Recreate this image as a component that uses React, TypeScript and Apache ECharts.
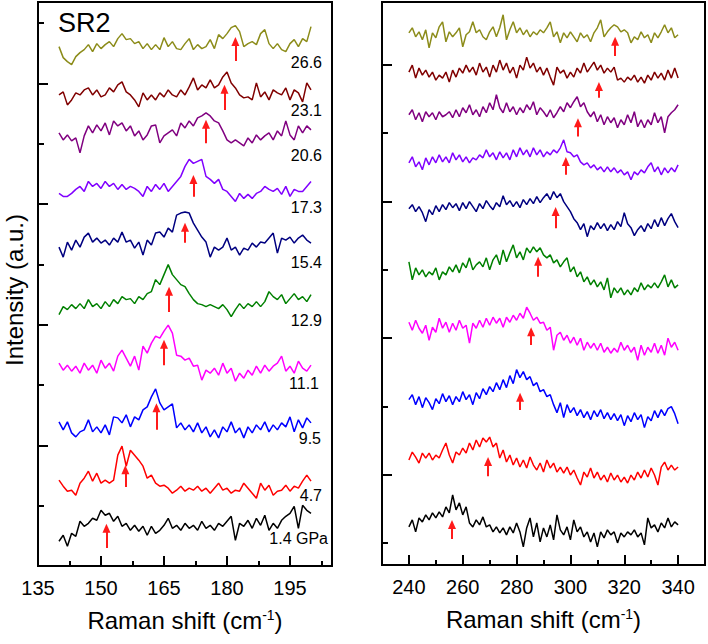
import React, { useEffect, useRef } from 'react';
import * as echarts from 'echarts';

// ---------- DATA ----------
const pressures = ['1.4 GPa', '4.7', '9.5', '11.1', '12.9', '15.4', '17.3', '20.6', '23.1', '26.6'];
const traceColors = ['#000000', '#ff0000', '#0000ff', '#ff00ff', '#008000', '#000080', '#8000ff', '#800080', '#800000', '#8c8c1a'];

const leftTickLabels = [135, 150, 165, 180, 195];
const rightTickLabels = [240, 260, 280, 300, 320, 340];

// Raman shift sampling of each panel (cm-1)
const leftShiftStart = 140;
const leftShiftStep = 1;
const rightShiftStart = 240;
const rightShiftStep = 1.25;

// vertical offsets of the stacked spectra (a.u.), bottom to top
const leftOffsets = [0.625, 1.29, 2.29, 3.28, 4.3, 5.32, 6.21, 7.18, 7.81, 8.61];
const rightOffsets = [0.66, 1.58, 2.42, 3.48, 4.32, 5.23, 5.93, 6.59, 7.17, 7.76];

// peak positions marked by arrows (cm-1) and arrow tail / tip heights (a.u.)
const leftPeaks = [151.3, 155.8, 163.2, 165, 166.2, 170, 172, 175, 179.4, 182];
const leftArrowTail = [0.3, 1.31, 2.26, 3.33, 4.21, 5.36, 6.12, 7.01, 7.56, 8.37];
const leftArrowTip = [0.7, 1.67, 2.7, 3.75, 4.63, 5.69, 6.48, 7.4, 7.98, 8.77];
const rightPeaks = [256, 269.4, 281.3, 285.4, 288, 294.5, 298.3, 302.8, 310.6, 316.6];
const rightArrowTail = [0.38, 1.3, 2.27, 3.22, 4.22, 4.93, 5.71, 6.27, 6.84, 7.45];
const rightArrowTip = [0.66, 1.58, 2.52, 3.48, 4.51, 5.24, 5.97, 6.54, 7.07, 7.73];

// Left panel spectra (relative counts), 140..200 cm-1
const L1_4 = [-13,-7,-18,-5,-8,7,2,5,10,8, 18,13,15,7,12,2,5,-2,3,-3, 2,-7,2,-5,-2,3,10,0,3,-2, 5,0,3,-2,7,0,3,-2,5,2, 7,12,-12,5,2,8,0,10,3,13, -2,5,0,8,12,15,22,0,23,18, 15];
const L4_7 = [8,2,-3,-2,-7,5,10,17,7,15, 5,8,5,8,33,42,22,38,33,28, 22,10,13,5,2,3,0,-5,-2,2, -3,0,-2,2,-3,0,-5,0,5,-2, 0,-5,-2,-3,5,0,-5,-10,5,-2, 3,-7,-3,-2,3,-3,2,0,7,13, 7];
const L9_5 = [6,-2,6,-5,-9,-4,-2,8,-4,1, -5,3,-7,11,10,5,13,1,11,8, 18,21,31,39,25,18,21,24,0,5, -2,3,-4,5,-5,1,-9,-2,-10,1, -4,6,-5,0,-10,1,-5,3,-2,6, -4,3,-2,5,1,11,-4,8,0,10, 5];
const L11_1 = [5,-2,3,-3,2,-5,5,-2,3,-5, 8,0,5,-3,12,18,10,2,12,-2, 22,15,25,32,30,37,43,35,13,12, 8,10,2,3,-12,-2,-5,0,-7,5, -5,0,-13,-5,-10,-2,-7,2,-5,3, -3,2,5,12,-3,2,-5,7,0,-3, 3];
const L12_9 = [-8,0,-3,2,-2,3,-2,7,0,3, -2,5,0,7,3,10,7,8,3,10, 7,13,15,27,22,32,42,32,27,22, 20,13,7,3,2,0,2,0,-2,2, -3,-10,-3,3,-2,3,0,5,0,5, 15,10,7,12,3,8,13,7,10,5, 12];
const L15_4 = [-2,-12,3,-5,5,-2,8,12,3,7, 2,5,0,7,3,13,3,5,-3,3, -10,5,0,12,13,8,17,13,30,32, 33,32,22,15,8,3,-12,-2,-5,-2, 7,-5,-2,-10,-3,-5,2,-2,3,2, 7,12,-8,7,5,8,2,7,10,5, 2];
const L17_3 = [-2,-5,-5,-2,2,5,0,10,5,8, 3,10,5,8,2,7,2,5,3,0, -5,5,0,7,2,8,0,5,10,15, 25,32,28,30,32,15,12,8,12,2, 0,-5,-10,-2,-7,-3,-7,-2,0,5, 2,0,3,-3,5,-5,2,0,0,5, 10];
const L20_6 = [0,-7,-2,-8,-5,-20,-3,7,0,8, 2,10,-2,12,7,10,2,7,-3,2, -7,-2,7,8,-10,-3,0,3,-3,10, 5,12,7,15,17,20,17,12,10,2, -7,-10,-7,-10,-13,-5,-10,-2,-7,-3, 0,-7,2,-3,12,-2,-7,7,0,7, 3];
const L23_1 = [0,3,-10,-5,2,0,5,7,0,5, -2,0,7,3,10,13,3,0,-5,-12, 2,-5,0,-5,2,-2,5,0,-2,5, 0,8,17,5,10,7,15,7,10,18, 23,12,7,0,-3,-2,-5,12,-2,3, -5,5,2,0,7,-5,5,2,-7,12, 5];
const L26_6 = [0,-11,-15,-18,-10,-6,-3,2,-5,3, -2,2,5,0,8,13,7,8,3,5, -2,3,-3,2,-3,9,0,5,-2,-3, 3,8,-3,2,-2,0,7,-2,12,8, 13,19,21,15,0,3,5,2,13,17, 3,-2,3,-3,-5,3,7,0,8,5, 20];

// Right panel spectra (relative counts), 240..340 cm-1
const R1_4 = [-7,0,-12,2,-2,5,0,7,2,8, 3,13,7,25,10,17,5,13,-3,-7, 0,-5,3,-7,-5,-12,-7,-13,-8,-15, -7,-13,-3,-12,-27,-8,2,-17,-3,-22, -8,-17,-5,-20,5,-10,-15,-7,-20,0, -12,-7,-17,-12,-22,-13,-27,-12,-18,-10, -15,-12,-23,-13,-17,-12,-15,-10,-17,-13, -25,2,-8,-5,-12,-3,-8,2,-7,-2, -5];
const R4_7 = [-3,5,0,-6,4,-1,4,-3,2,-1, 7,14,2,-6,5,2,9,4,14,7, 17,10,19,15,20,10,14,-1,7,-5, 2,-8,-1,-10,-3,-11,0,-8,-13,-6, -15,-3,-11,-6,-15,-10,-16,-10,-18,-13, -21,-28,-15,-20,-11,-21,-15,-23,-18,-25, -16,-23,-18,-25,-20,-26,-18,-23,-15,-21, -13,-20,-11,-18,-28,-10,-5,-13,-8,-13, -10];
const R9_5 = [0,5,-5,3,-8,2,-3,-10,1,-4, 6,-2,4,-5,3,-2,8,0,5,-5, 7,1,11,5,13,8,17,10,20,12, 24,16,30,22,28,20,23,14,17,8, 10,3,5,-5,-13,-3,-18,-5,-13,-8, -16,-10,-18,-12,-20,-11,-17,-10,-19,-13, -20,-14,-21,-15,-26,-16,-22,-13,-20,-15, -28,-17,-21,-11,-18,-10,-16,-9,-7,-14, -24];
const R11_1 = [5,-3,7,-1,-6,2,-13,0,-5,9, -1,5,-5,4,-3,7,-1,2,-16,4, -1,7,0,9,2,10,4,9,0,10, 5,12,7,14,9,20,14,7,10,4, 5,-3,0,-23,-8,-5,-13,-8,-16,-10, -18,-11,-23,-15,-21,-16,-23,-16,-25,-20, -26,-21,-25,-15,-23,-18,-25,-20,-33,-18, -28,-20,-25,-16,-26,-18,-28,-11,-20,-15, -23];
const R12_9 = [8,-10,2,-5,0,-7,-2,-5,2,-10, -2,-5,3,-2,5,-3,7,2,12,0, 5,8,3,12,0,10,15,5,20,8, 17,25,12,18,10,22,17,23,18,22, 15,12,15,7,10,3,8,12,-2,3, -7,-2,-12,-7,-15,-10,-17,-12,-20,-8, -28,-18,-23,-18,-25,-20,-25,-18,-22,-13, -20,-15,-18,-13,-18,-12,-5,-17,-10,-18, -15];
const R15_4 = [-1,3,-4,1,-5,-14,-2,-7,2,-4, 3,-2,5,0,4,-3,5,-1,6,1, -4,4,-1,7,2,-2,5,1,12,3, 7,1,6,0,8,3,9,4,11,5, 10,14,8,16,10,14,6,1,-4,-11, -15,-22,-16,-29,-18,-22,-15,-21,-16,-23, -17,-22,-14,-19,-5,-16,-20,-28,-22,-18, -24,-16,-21,-12,-19,-10,-18,-11,-6,-14, -20];
const R17_3 = [-3,3,-7,-2,-10,2,-5,3,-3,5, -2,3,-3,7,0,5,-2,3,-3,2, 0,5,2,10,3,7,0,8,2,7, 0,10,3,12,5,10,3,12,5,10, 3,8,5,10,7,12,20,8,7,3, 5,-2,-5,-3,-8,-5,-10,-7,-12,-7, -12,-8,-13,-10,-15,-12,-20,-12,-15,-10, -13,-7,-3,-12,-7,-15,-8,-13,-8,-12, -5];
const R20_6 = [0,5,-5,2,-7,3,-2,2,-5,3, -2,0,3,-3,5,-2,7,2,10,0, 5,-2,8,2,12,5,20,7,2,12, 3,8,0,7,2,10,5,13,0,7, 3,-2,5,-3,2,8,3,12,7,13, 18,8,12,3,-2,3,-7,0,-10,-2, -8,-3,-13,-5,-10,0,-8,3,-12,-5, -13,-5,-10,2,-8,-2,-18,-2,2,5, 10];
const R23_1 = [3,10,-3,7,0,5,-2,3,-5,0, -3,3,-7,5,-2,7,2,10,3,8, 0,12,3,8,-2,10,3,15,5,12, 2,8,-3,10,5,18,7,12,3,8, 0,7,-2,-10,8,2,5,-3,3,-2, 7,2,12,3,8,13,5,10,2,7, 3,8,-5,-3,-7,-2,-5,0,-7,-2, -8,0,-5,3,-3,2,-5,5,-3,7, -3];
const R26_6 = [2,7,-2,3,-5,5,-13,2,-3,8, 13,-7,3,-2,2,7,-12,0,3,13, 2,5,-2,-5,3,8,-2,7,20,-5, 5,13,2,7,0,5,-2,3,0,5, 2,7,13,-2,3,-8,2,-3,3,-2, -7,2,-3,0,-7,2,7,15,-2,3, 7,10,8,3,5,2,-8,-2,-5,3, -3,0,-8,2,-3,3,10,2,7,-3, 0];

const leftSpectra = [L1_4, L4_7, L9_5, L11_1, L12_9, L15_4, L17_3, L20_6, L23_1, L26_6];
const rightSpectra = [R1_4, R4_7, R9_5, R11_1, R12_9, R15_4, R17_3, R20_6, R23_1, R26_6];

// ---------- LAYOUT / STYLE ----------
const FONT = 'Arial, "Liberation Sans", sans-serif';
const LEFT_GRID = { left: 38, top: 2, width: 294, height: 564 };
const RIGHT_GRID = { left: 382, top: 2, width: 323, height: 563 };
const LEFT_Y_MAX = 9.35;
const RIGHT_Y_MAX = 8.24;
const LEFT_PX_PER_UNIT = LEFT_GRID.height / LEFT_Y_MAX;
const RIGHT_PX_PER_UNIT = RIGHT_GRID.height / RIGHT_Y_MAX;
const RIGHT_MAJOR_Y = [1.32, 3.32, 5.32, 7.32];
const RIGHT_MINOR_Y = [0.32, 1.32, 2.32, 3.32, 4.32, 5.32, 6.32, 7.32];
const labelRightX = [328, 322, 321, 319, 322, 322, 322, 322, 322, 322];
const labelY = [538, 495, 438, 383, 320, 262, 207, 155, 110, 62];
const ARROW_HEAD = 9;

function buildSeries(
  spectra: number[][], start: number, step: number, offsets: number[], pxPerUnit: number,
  peaks: number[], tails: number[], tips: number[], axisIdx: number
) {
  return spectra.map((counts, k) => {
    const data = counts.map((c, i) => [start + i * step, offsets[k] + c / pxPerUnit]);
    const tipCenter = tips[k] - ARROW_HEAD / 2 / pxPerUnit;
    return {
      type: 'line',
      name: pressures[k] + (axisIdx === 0 ? ' L' : ' R'),
      xAxisIndex: axisIdx,
      yAxisIndex: axisIdx,
      data,
      symbol: 'none',
      showSymbol: false,
      silent: true,
      lineStyle: { color: traceColors[k], width: 1.5 },
      markLine: {
        silent: true,
        symbol: ['none', 'triangle'],
        symbolSize: [8, ARROW_HEAD],
        label: { show: false },
        lineStyle: { color: '#ff1a1a', width: 2, type: 'solid' },
        emphasis: { disabled: true },
        data: [[{ coord: [peaks[k], tails[k]] }, { coord: [peaks[k], tipCenter] }]],
      },
    };
  });
}

const tickStyle = { color: '#000', width: 2 };

export default function App() {
  const ref = useRef<HTMLDivElement>(null);

  useEffect(() => {
    document.body.style.margin = '0';
    if (!ref.current) return;
    const chart = echarts.init(ref.current, undefined, { renderer: 'svg' });

    const nameStyle = {
      fontSize: 24, color: '#000', fontFamily: FONT,
      rich: { sup: { fontSize: 14, verticalAlign: 'top', fontFamily: FONT, color: '#000', padding: [0, 0, 8, 0] } },
    };
    const labelStyle = { fontSize: 20, color: '#000', fontFamily: FONT, margin: 12 };

    const option: any = {
      animation: false,
      backgroundColor: '#ffffff',
      grid: [
        { ...LEFT_GRID, show: true, borderColor: '#000', borderWidth: 2, backgroundColor: 'transparent' },
        { ...RIGHT_GRID, show: true, borderColor: '#000', borderWidth: 2, backgroundColor: 'transparent' },
      ],
      xAxis: [
        {
          type: 'value', gridIndex: 0, position: 'bottom', min: 135, max: 205, interval: 15,
          axisLine: { show: false }, splitLine: { show: false },
          axisTick: { inside: true, length: 10, lineStyle: tickStyle },
          axisLabel: { ...labelStyle, showMaxLabel: false, formatter: (v: number) => (leftTickLabels.includes(v) ? String(v) : '') },
          name: 'Raman shift (cm{sup|-1})', nameLocation: 'middle', nameGap: 42, nameTextStyle: nameStyle,
        },
        {
          type: 'value', gridIndex: 0, position: 'bottom', min: 135, max: 205, interval: 7.5,
          axisLine: { show: false }, splitLine: { show: false },
          axisTick: { inside: true, length: 5, lineStyle: tickStyle },
          axisLabel: { show: false },
        },
        {
          type: 'value', gridIndex: 1, position: 'bottom', min: 230, max: 350,
          axisLine: { show: false }, splitLine: { show: false },
          axisTick: { inside: true, length: 10, lineStyle: tickStyle, customValues: rightTickLabels },
          axisLabel: { ...labelStyle, customValues: rightTickLabels },
          name: 'Raman shift (cm{sup|-1})', nameLocation: 'middle', nameGap: 42, nameTextStyle: nameStyle,
        },
        {
          type: 'value', gridIndex: 1, position: 'bottom', min: 230, max: 350, interval: 10,
          axisLine: { show: false }, splitLine: { show: false },
          axisTick: { inside: true, length: 5, lineStyle: tickStyle },
          axisLabel: { show: false },
        },
      ],
      yAxis: [
        {
          type: 'value', gridIndex: 0, position: 'left', min: 0, max: LEFT_Y_MAX, interval: 2,
          axisLine: { show: false }, splitLine: { show: false },
          axisTick: { inside: true, length: 10, lineStyle: tickStyle },
          axisLabel: { show: false },
          name: 'Intensity (a.u.)', nameLocation: 'middle', nameGap: 12,
          nameTextStyle: { fontSize: 24, color: '#000', fontFamily: FONT, padding: [0, 12, 0, 0] },
        },
        {
          type: 'value', gridIndex: 0, position: 'left', min: 0, max: LEFT_Y_MAX, interval: 1,
          axisLine: { show: false }, splitLine: { show: false },
          axisTick: { inside: true, length: 6, lineStyle: tickStyle },
          axisLabel: { show: false },
        },
        {
          type: 'value', gridIndex: 1, position: 'left', min: 0, max: RIGHT_Y_MAX,
          axisLine: { show: false }, splitLine: { show: false },
          axisTick: { inside: true, length: 10, lineStyle: tickStyle, customValues: RIGHT_MAJOR_Y },
          axisLabel: { show: false, customValues: RIGHT_MAJOR_Y },
        },
        {
          type: 'value', gridIndex: 1, position: 'left', min: 0, max: RIGHT_Y_MAX,
          axisLine: { show: false }, splitLine: { show: false },
          axisTick: { inside: true, length: 6, lineStyle: tickStyle, customValues: RIGHT_MINOR_Y },
          axisLabel: { show: false, customValues: RIGHT_MINOR_Y },
        },
      ],
      series: [
        ...buildSeries(leftSpectra, leftShiftStart, leftShiftStep, leftOffsets, LEFT_PX_PER_UNIT, leftPeaks, leftArrowTail, leftArrowTip, 0),
        ...buildSeries(rightSpectra, rightShiftStart, rightShiftStep, rightOffsets, RIGHT_PX_PER_UNIT, rightPeaks, rightArrowTail, rightArrowTip, 2).map((s: any) => ({ ...s, yAxisIndex: 2 })),
      ],
      graphic: [
        {
          type: 'text', x: 58, y: 23,
          style: { text: 'SR2', fill: '#000', fontSize: 27, fontFamily: FONT, textAlign: 'left', textVerticalAlign: 'middle' },
        },
        ...pressures.map((p, k) => ({
          type: 'text', x: labelRightX[k], y: labelY[k],
          style: { text: p, fill: '#000', fontSize: 16, fontFamily: FONT, textAlign: 'right', textVerticalAlign: 'middle' },
        })),
      ],
    };
    chart.setOption(option);
    return () => chart.dispose();
  }, []);

  return <div ref={ref} style={{ width: 708, height: 644 }} />;
}
